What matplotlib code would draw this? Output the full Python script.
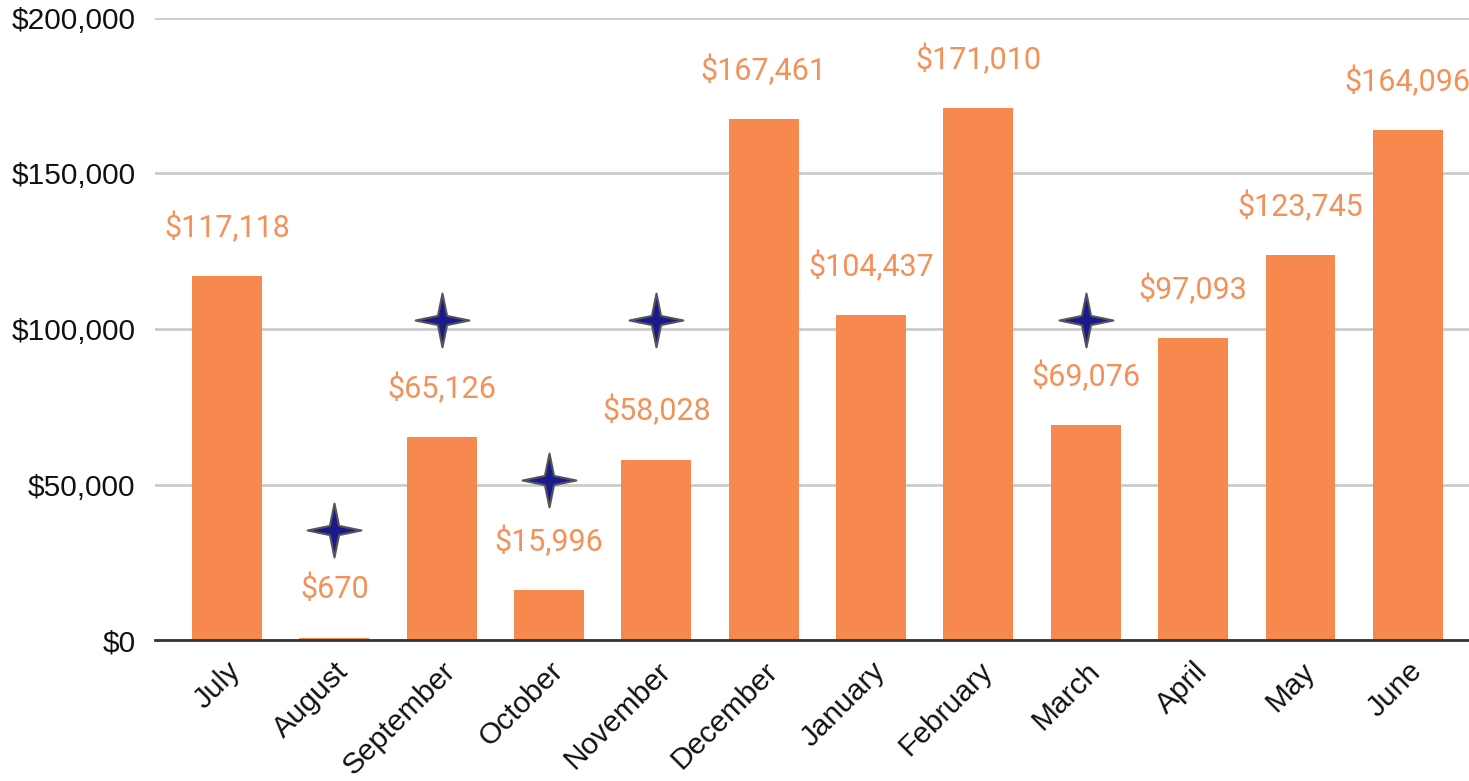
import numpy as np
import matplotlib.pyplot as plt
from matplotlib.path import Path
from matplotlib.ticker import FuncFormatter

months = ['July', 'August', 'September', 'October', 'November', 'December',
          'January', 'February', 'March', 'April', 'May', 'June']
revenue = [117118, 670, 65126, 15996, 58028, 167461,
           104437, 171010, 69076, 97093, 123745, 164096]
star_months = ['August', 'September', 'October', 'November', 'March']
star_values = [35500, 103000, 51500, 103000, 103000]

bar_color = '#F7894F'
label_color = '#F39159'

# four-pointed star marker
r_in = 0.17
verts = [(0, 1), (r_in, r_in), (1, 0), (r_in, -r_in), (0, -1),
         (-r_in, -r_in), (-1, 0), (-r_in, r_in), (0, 1)]
codes = [Path.MOVETO] + [Path.LINETO] * 7 + [Path.CLOSEPOLY]
star = Path(verts, codes)

fig = plt.figure(figsize=(14.69, 7.81), dpi=100)
ax = fig.add_axes([0.1055, 0.1805, 0.8945, 0.7965])

x = np.arange(len(months))
ax.bar(x, revenue, 0.65, color=bar_color, zorder=2)
for xi, v in zip(x, revenue):
    ax.annotate('${:,}'.format(v), (xi, v), xytext=(0, 35),
                textcoords='offset points', ha='center', va='center',
                fontsize=22, color=label_color, family='Roboto')

sx = [months.index(m) for m in star_months]
ax.scatter(sx, star_values, s=1500, marker=star, color='#1A1A8C',
           edgecolors='#555555', linewidths=1.5, zorder=4)

ax.set_ylim(0, 200000)
ax.set_xlim(-0.67, 11.57)
ax.set_yticks([0, 50000, 100000, 150000, 200000])
ax.yaxis.set_major_formatter(FuncFormatter(lambda v, p: '${:,.0f}'.format(v)))
ax.set_xticks(x)
ax.set_xticklabels(months, rotation=45, ha='right', rotation_mode='anchor')
ax.tick_params(axis='both', length=0, labelsize=21.5, colors='#111111')
ax.tick_params(axis='y', pad=14)
ax.tick_params(axis='x', pad=12)
for lab in ax.get_xticklabels() + ax.get_yticklabels():
    lab.set_family('Liberation Sans')

ax.grid(axis='y', color='#CCCCCC', linewidth=2, zorder=0)
for s in ['top', 'right', 'left']:
    ax.spines[s].set_visible(False)
ax.spines['bottom'].set_color('#333333')
ax.spines['bottom'].set_linewidth(2)
ax.spines['bottom'].set_zorder(3)

fig.savefig('out.png', dpi=100)
